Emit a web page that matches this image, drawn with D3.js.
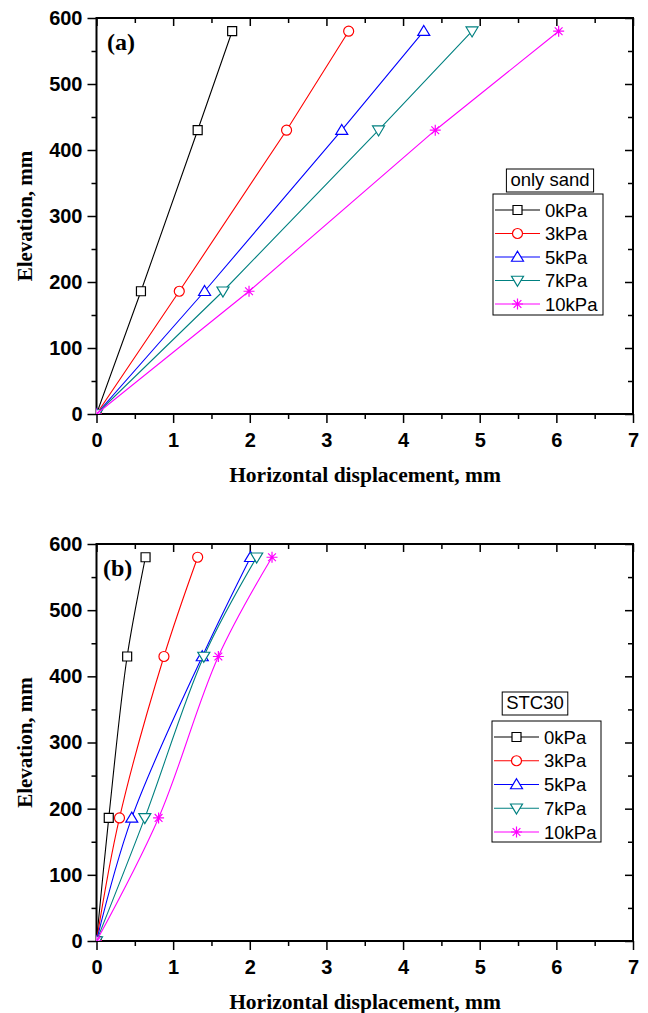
<!DOCTYPE html>
<html>
<head>
<meta charset="utf-8">
<script src="https://cdn.jsdelivr.net/npm/d3@7"></script>
<style>
  body { margin: 0; background: #fff; }
  .tick text { font-family: "Liberation Sans", Arial, sans-serif; font-weight: bold; font-size: 20px; fill: #000; }
  .axis path, .axis line { stroke: #000; }
  .ttl { font-family: "Liberation Serif", "Times New Roman", serif; font-weight: bold; fill: #000; }
  .leg { font-family: "Liberation Sans", Arial, sans-serif; font-size: 18.5px; fill: #000; }
</style>
</head>
<body>
<div id="chart"></div>
<script>
// data
var elevation = [0, 186, 430, 580];
var pressures = ["0kPa", "3kPa", "5kPa", "7kPa", "10kPa"];
var colors = ["#000000", "#ff0000", "#0000ff", "#008080", "#ff00ff"];
var shapes = ["square", "circle", "triangle", "down", "star"];

// (a) only sand
var sand0 = [0, 0.58, 1.32, 1.77];
var sand3 = [0, 1.08, 2.48, 3.29];
var sand5 = [0, 1.41, 3.20, 4.27];
var sand7 = [0, 1.65, 3.68, 4.90];
var sand10 = [0, 1.99, 4.42, 6.03];

// (b) STC30
var stc0 = [0, 0.16, 0.40, 0.64];
var stc3 = [0, 0.30, 0.88, 1.32];
var stc5 = [0, 0.46, 1.38, 2.01];
var stc7 = [0, 0.63, 1.40, 2.09];
var stc10 = [0, 0.81, 1.59, 2.29];

var xTicks = [0, 1, 2, 3, 4, 5, 6, 7];
var xMinor = [0.5, 1.5, 2.5, 3.5, 4.5, 5.5, 6.5];
var yTicks = [0, 100, 200, 300, 400, 500, 600];
var yMinor = [50, 150, 250, 350, 450, 550];

var svg = d3.select("#chart").append("svg").attr("width", 648).attr("height", 1013);

function marker(shape, r) {
  var p = d3.path();
  if (shape == "square") {
    p.rect(-r * 0.9, -r * 0.9, r * 1.8, r * 1.8);
  } else if (shape == "circle") {
    p.arc(0, 0, r, 0, 2 * Math.PI);
  } else if (shape == "triangle") {
    p.moveTo(0, -r * 1.15); p.lineTo(r * 1.2, r * 0.85); p.lineTo(-r * 1.2, r * 0.85); p.closePath();
  } else if (shape == "down") {
    p.moveTo(0, r * 1.15); p.lineTo(r * 1.2, -r * 0.85); p.lineTo(-r * 1.2, -r * 0.85); p.closePath();
  } else {
    for (var k = 0; k < 4; k++) {
      var a = k * Math.PI / 4;
      p.moveTo(Math.cos(a) * r * 1.1, Math.sin(a) * r * 1.1);
      p.lineTo(-Math.cos(a) * r * 1.1, -Math.sin(a) * r * 1.1);
    }
  }
  return p.toString();
}

function panel(id, top, bottom, series, curve, label, legTitle, leg) {
  var left = 96.5, right = 633;
  var x = d3.scaleLinear().domain([0, 7]).range([left, right]);
  var y = d3.scaleLinear().domain([0, 600]).range([bottom, top]);
  var g = svg.append("g");

  g.append("clipPath").attr("id", id).append("rect")
    .attr("x", left).attr("y", top).attr("width", right - left).attr("height", bottom - top);

  // minor ticks
  g.append("g").attr("class", "axis").attr("transform", "translate(0," + bottom + ")")
    .call(d3.axisBottom(x).tickValues(xMinor).tickSize(5).tickFormat(""));
  g.append("g").attr("class", "axis").attr("transform", "translate(0," + top + ")")
    .call(d3.axisTop(x).tickValues(xMinor).tickSize(-5).tickFormat(""));
  g.append("g").attr("class", "axis").attr("transform", "translate(" + left + ",0)")
    .call(d3.axisLeft(y).tickValues(yMinor).tickSize(5).tickFormat(""));
  g.append("g").attr("class", "axis").attr("transform", "translate(" + right + ",0)")
    .call(d3.axisRight(y).tickValues(yMinor).tickSize(-5).tickFormat(""));

  // major ticks
  g.append("g").attr("class", "axis").attr("transform", "translate(0," + bottom + ")")
    .call(d3.axisBottom(x).tickValues(xTicks).tickSize(9).tickPadding(10).tickFormat(d3.format("d")));
  g.append("g").attr("class", "axis").attr("transform", "translate(0," + top + ")")
    .call(d3.axisTop(x).tickValues(xTicks).tickSize(-8).tickFormat(""));
  g.append("g").attr("class", "axis").attr("transform", "translate(" + left + ",0)")
    .call(d3.axisLeft(y).tickValues(yTicks).tickSize(9).tickPadding(5).tickFormat(d3.format("d")));
  g.append("g").attr("class", "axis").attr("transform", "translate(" + right + ",0)")
    .call(d3.axisRight(y).tickValues(yTicks).tickSize(-8).tickFormat(""));

  g.selectAll(".axis path").remove();
  g.selectAll(".axis line").attr("stroke-width", 1.5);

  g.append("rect").attr("x", left).attr("y", top).attr("width", right - left).attr("height", bottom - top)
    .attr("fill", "none").attr("stroke", "#000").attr("stroke-width", 2);

  var line = d3.line().curve(curve)
    .x(function(d) { return x(d[0]); })
    .y(function(d) { return y(d[1]); });

  var plot = g.append("g").attr("clip-path", "url(#" + id + ")");
  series.forEach(function(s, i) {
    var pts = s.map(function(v, j) { return [v, elevation[j]]; });
    plot.append("path").datum(pts).attr("d", line)
      .attr("fill", "none").attr("stroke", colors[i]).attr("stroke-width", 1.1);
    plot.selectAll(null).data(pts).enter().append("path")
      .attr("transform", function(d) { return "translate(" + x(d[0]) + "," + y(d[1]) + ")"; })
      .attr("d", marker(shapes[i], 5))
      .attr("fill", shapes[i] == "star" ? "none" : "#fff")
      .attr("stroke", colors[i]).attr("stroke-width", 1.2);
  });

  g.append("text").attr("class", "ttl").attr("x", label.x).attr("y", top + 32)
    .attr("font-size", "24px").text(label.t);

  g.append("text").attr("class", "ttl").attr("font-size", "21.5px")
    .attr("text-anchor", "middle")
    .attr("x", 365).attr("y", bottom + 68)
    .text("Horizontal displacement, mm");

  g.append("text").attr("class", "ttl").attr("font-size", "21px")
    .attr("text-anchor", "middle")
    .attr("transform", "translate(32," + (top + bottom) / 2 + ") rotate(-90)")
    .text("Elevation, mm");

  // legend
  var tt = g.append("text").attr("class", "leg").attr("x", leg.tx).attr("y", leg.ty + 16)
    .attr("text-anchor", "middle").text(legTitle);
  var tw = tt.node().getComputedTextLength();
  g.insert("rect", "text.leg").attr("x", leg.tx - tw / 2 - 4).attr("y", leg.ty - 1)
    .attr("width", tw + 8).attr("height", 23)
    .attr("fill", "#fff").attr("stroke", "#000").attr("stroke-width", 1);

  g.append("rect").attr("x", leg.x).attr("y", leg.y).attr("width", leg.w).attr("height", leg.h)
    .attr("fill", "#fff").attr("stroke", "#000").attr("stroke-width", 1);
  pressures.forEach(function(p, i) {
    var yy = leg.y + 16 + i * leg.step;
    g.append("line").attr("x1", leg.x + 2).attr("x2", leg.x + 47).attr("y1", yy).attr("y2", yy)
      .attr("stroke", colors[i]).attr("stroke-width", 1.1);
    g.append("path").attr("transform", "translate(" + (leg.x + 24.5) + "," + yy + ")")
      .attr("d", marker(shapes[i], 5))
      .attr("fill", shapes[i] == "star" ? "none" : "#fff")
      .attr("stroke", colors[i]).attr("stroke-width", 1.2);
    g.append("text").attr("class", "leg").attr("x", leg.x + 52).attr("y", yy + 6.5).text(p);
  });
}

panel("clipA", 18, 414, [sand0, sand3, sand5, sand7, sand10], d3.curveLinear,
  {x: 107, t: "(a)"}, "only sand",
  {tx: 550, ty: 170, x: 493, y: 194, w: 110, h: 121, step: 23.5});

panel("clipB", 544, 941, [stc0, stc3, stc5, stc7, stc10], d3.curveCatmullRom,
  {x: 103, t: "(b)"}, "STC30",
  {tx: 535, ty: 693, x: 492, y: 721, w: 109, h: 121, step: 23.75});
</script>
</body>
</html>
